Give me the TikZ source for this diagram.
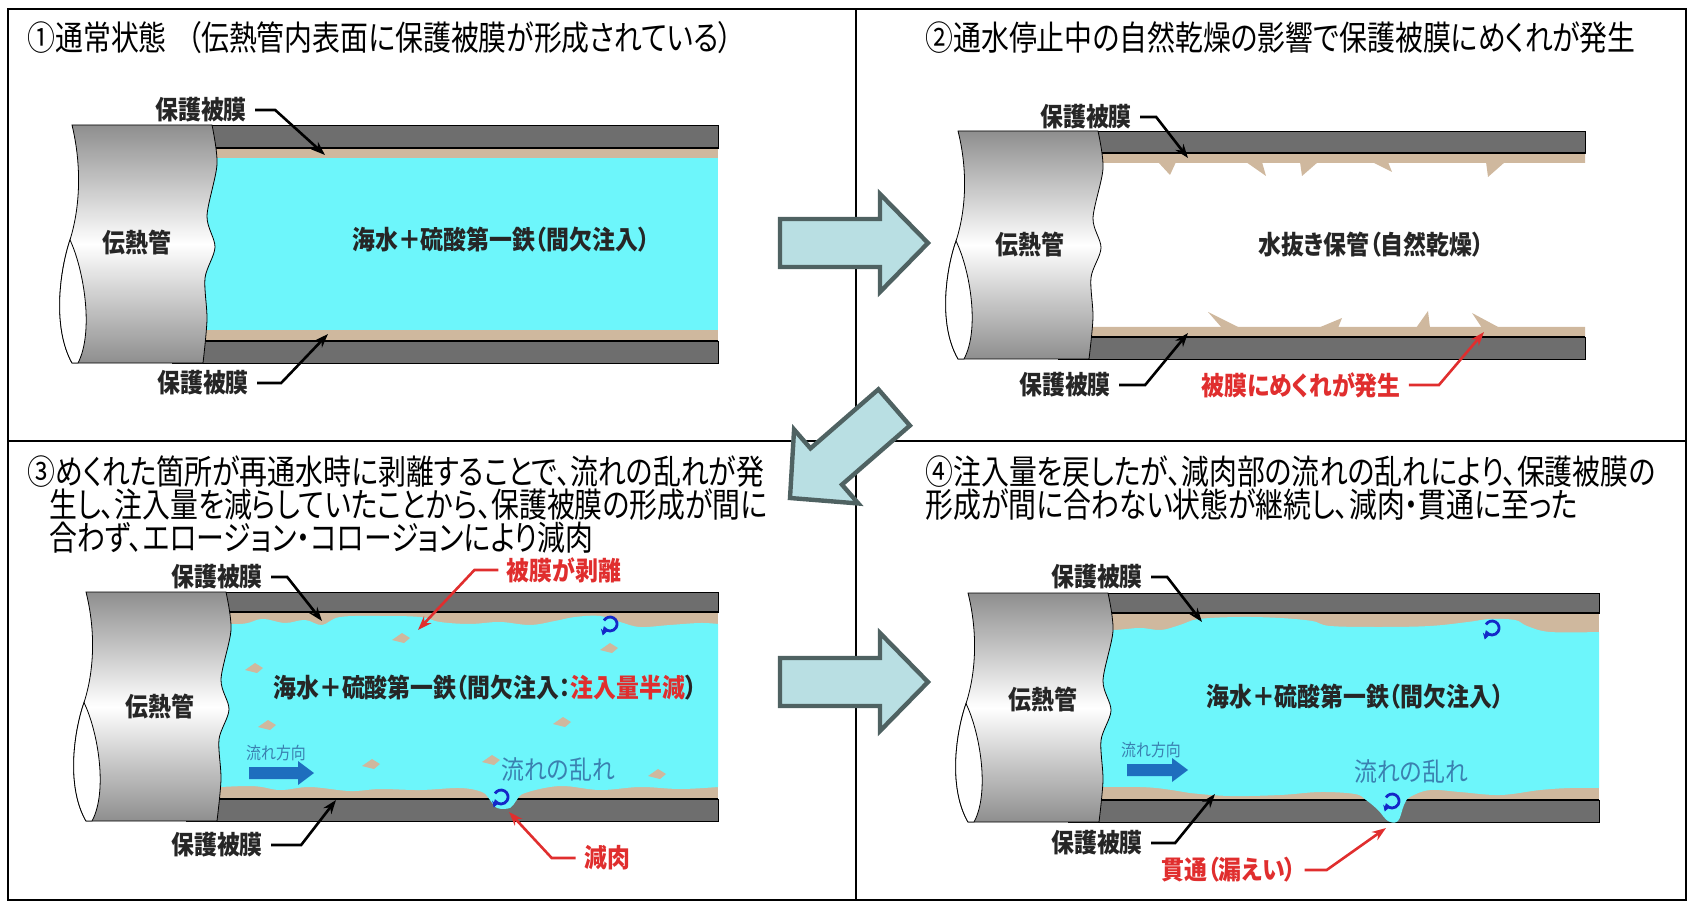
\documentclass[tikz,border=0pt]{standalone}
\usepackage{fontspec}
\usetikzlibrary{arrows.meta}

\newfontfamily\jp[FakeStretch=0.88,RawFeature=+palt]{Noto Sans CJK JP}
\newfontfamily\jphead[FakeStretch=0.82,RawFeature=+palt]{Noto Sans CJK JP}
\newcommand{\titlefont}{\jphead\fontsize{17}{20}\selectfont}
\newcommand{\tagfont}{\jp\bfseries\fontsize{13}{15}\selectfont}
\newcommand{\smalltagfont}{\jp\fontsize{8.5}{10}\selectfont}

\definecolor{wallgrey}{HTML}{6E6E6E}
\definecolor{tubegrey}{HTML}{8E8E8E}
\definecolor{filmtan}{HTML}{CFB89E}
\definecolor{watercyan}{HTML}{6DF6FB}
\definecolor{arrowfill}{HTML}{B9DFE3}
\definecolor{arrowedge}{HTML}{4F6262}
\definecolor{leadred}{HTML}{E02E2E}
\definecolor{flowblue}{HTML}{1E6EBE}
\definecolor{flowtext}{HTML}{3A80B0}
\definecolor{swirlblue}{HTML}{1428C8}

\tikzset{
  frame/.style={draw=black, line width=1pt},
  wall/.style={fill=wallgrey, draw=black, line width=0.4pt},
  innerline/.style={draw=black, line width=1.2pt},
  title/.style={anchor=west, inner sep=0pt, font=\titlefont},
  tag/.style={inner sep=4pt, font=\tagfont, text=black!85},
  redtag/.style={tag, text=leadred},
  flowtag/.style={inner sep=2pt, font=\jp\fontsize{13}{15}\selectfont, text=flowtext},
  lead/.style={draw=black, line width=1.3pt, -{Stealth[length=7pt,width=5pt]}},
  redlead/.style={lead, draw=leadred},
  bigarrow/.style={fill=arrowfill, draw=arrowedge, line width=2.2pt, line join=miter},
  swirl/.style={draw=swirlblue, line width=1.4pt, -{Stealth[length=3pt,width=3.5pt]}},
}

% cut end of a tube; #1 top left corner, #2 vertical scale
\newcommand{\tubeend}[2]{%
  \begin{scope}[shift={#1}, yscale=#2]
    \shadedraw[top color=tubegrey, bottom color=tubegrey, middle color=white, draw=black, line width=0.4pt]
      (0,0) -- (140,0) -- plot[smooth] coordinates {(140,0) (145,38) (135,88) (143,118) (133,148) (135,188) (131,230)}
      -- (0,230) .. controls (-20,195) and (-12,140) .. (-2,111) .. controls (8,80) and (10,40) .. (0,0) -- cycle;
    \filldraw[fill=white, draw=black, line width=0.4pt]
      (-2,111) .. controls (-12,140) and (-20,195) .. (0,230) -- (6,230) .. controls (22,200) and (12,140) .. (-2,111) -- cycle;
  \end{scope}}

\begin{document}
\begin{tikzpicture}[x=0.5pt,y=-0.5pt]
\useasboundingbox (0,0) rectangle (1692,903);

% four panels
\draw[frame] (8,9) rectangle (1686,900);
\draw[frame] (856,9) -- (856,900);
\draw[frame] (8,441) -- (1686,441);

%%% (1) normal state
\node[title] (t1) at (27,38) {①通常状態\hspace{0.6em}（伝熱管内表面に保護被膜が形成されている）};
\fill[filmtan] (172,148) rectangle (718,341);
\fill[watercyan] (172,158) rectangle (718,330);
\draw[wall] (172,125) rectangle (718,148);
\draw[wall] (172,341) rectangle (718,363);
\draw[innerline] (172,148) -- (718,148) (172,341) -- (718,341);
\tubeend{(72,125)}{1.035}
\node[tag] (p1pipe) at (137,243) {伝熱管};
\node[tag] (p1water) at (501,240) {海水＋硫酸第一鉄（間欠注入）};
\node[tag] (p1filmtop) at (201,110) {保護被膜};
\node[tag] (p1filmbot) at (203,383) {保護被膜};
\coordinate (p1a) at (325,155);
\coordinate (p1b) at (328,334);
\draw[lead] (p1filmtop.east) -- ++(20,0) -- (p1a);
\draw[lead] (p1filmbot.east) -- ++(24,0) -- (p1b);

%%% (2) dried out, film curls up
\node[title] (t2) at (925,38) {②通水停止中の自然乾燥の影響で保護被膜にめくれが発生};
\draw[wall] (1058,131) rectangle (1585,153);
\draw[wall] (1058,337) rectangle (1585,359);
\fill[filmtan] (1058,153) rectangle (1585,163) (1058,327) rectangle (1585,337);
\draw[innerline] (1058,153) -- (1585,153) (1058,337) -- (1585,337);
% curled flakes
\fill[filmtan] (1158,162) -- (1176,162) -- (1170,175) -- cycle;
\fill[filmtan] (1246,162) -- (1262,162) -- (1266,176) -- cycle;
\fill[filmtan] (1300,162) -- (1318,162) -- (1302,176) -- cycle;
\fill[filmtan] (1372,162) -- (1388,162) -- (1392,172) -- cycle;
\fill[filmtan] (1486,162) -- (1505,162) -- (1488,177) -- cycle;
\fill[filmtan] (1222,328) -- (1240,328) -- (1208,312) -- cycle;
\fill[filmtan] (1318,328) -- (1338,328) -- (1342,318) -- cycle;
\fill[filmtan] (1416,328) -- (1430,328) -- (1428,311) -- cycle;
\fill[filmtan] (1482,328) -- (1500,328) -- (1472,313) -- cycle;
\tubeend{(958,131)}{0.991}
\node[tag] (p2pipe) at (1030,245) {伝熱管};
\node[tag] (p2dry) at (1371,245) {水抜き保管（自然乾燥）};
\node[tag] (p2filmtop) at (1086,117) {保護被膜};
\node[tag] (p2filmbot) at (1065,385) {保護被膜};
\node[redtag] (p2curl) at (1301,385) {被膜にめくれが発生};
\coordinate (p2a) at (1188,158);
\coordinate (p2b) at (1188,333);
\coordinate (p2c) at (1484,332);
\draw[lead] (p2filmtop.east) -- ++(16,0) -- (p2a);
\draw[lead] (p2filmbot.east) -- ++(26,0) -- (p2b);
\draw[redlead] (p2curl.east) -- ++(30,0) -- (p2c);

%%% (3) film peels off, wall thinning
\node[title] (t3a) at (27,472) {③めくれた箇所が再通水時に剥離することで、流れの乱れが発};
\node[title] (t3b) at (49,505) {生し、注入量を減らしていたことから、保護被膜の形成が間に};
\node[title] (t3c) at (49,538) {合わず、エロージョン・コロージョンにより減肉};
\draw[wall] (186,592) rectangle (718,612);
\draw[wall] (186,799) rectangle (718,821);
\fill[filmtan] (186,612) rectangle (718,799);
\draw[innerline] (186,612) -- (718,612) (186,799) -- (718,799);
\fill[watercyan] plot[smooth, tension=.6] coordinates {(186,622) (240,624) (262,619) (285,623) (305,620) (322,625) (340,617) (380,616) (420,617) (440,622) (470,624) (500,622) (530,625) (555,621) (575,617) (600,616) (620,622) (640,627) (670,625) (700,623) (718,624)}
  -- plot[smooth, tension=.6] coordinates {(718,787) (680,789) (640,787) (600,790) (560,786) (525,793) (516,801) (510,808) (497,808) (490,800) (482,792) (460,788) (420,790) (380,789) (350,791) (310,787) (280,790) (250,786) (186,789)} -- cycle;
% loose pieces of film
\foreach \x/\y in {392/640, 600/650, 245/670, 258/727, 553/724, 362/766, 482/762, 648/776}
  \fill[filmtan] (\x,\y) -- ++(10,-7) -- ++(8,5) -- ++(-6,5) -- cycle;
\fill[flowblue] (249,767) -- (298,767) -- (298,761) -- (314,773) -- (298,785) -- (298,779) -- (249,779) -- cycle;
\draw[swirl] (604,620.5) arc[start angle=-150, end angle=140, radius=7] -- ++(-2,7);
\draw[swirl] (495,793.5) arc[start angle=-150, end angle=140, radius=7] -- ++(-2,6);
\tubeend{(86,592)}{0.996}
\node[tag] (p3pipe) at (160,707) {伝熱管};
\node[tag] (p3water) at (485,688) {海水＋硫酸第一鉄（間欠注入：\textcolor{leadred}{注入量半減}）};
\node[flowtag, font=\smalltagfont] (p3dir) at (276,753) {流れ方向};
\node[flowtag] (p3turb) at (558,770) {流れの乱れ};
\node[tag] (p3filmtop) at (217,577) {保護被膜};
\node[tag] (p3filmbot) at (217,845) {保護被膜};
\node[redtag] (p3peel) at (564,570) {被膜が剥離};
\node[redtag] (p3thin) at (607,858) {減肉};
\coordinate (p3a) at (322,621);
\coordinate (p3b) at (336,800);
\coordinate (p3c) at (418,630);
\coordinate (p3d) at (509,812);
\draw[lead] (p3filmtop.east) -- ++(16,0) -- (p3a);
\draw[lead] (p3filmbot.east) -- ++(30,0) -- (p3b);
\draw[redlead] (p3peel.west) -- ++(-24,0) -- (p3c);
\draw[redlead] (p3thin.west) -- ++(-24,0) -- (p3d);

%%% (4) thinning goes on until leak
\node[title] (t4a) at (925,472) {④注入量を戻したが、減肉部の流れの乱れにより、保護被膜の};
\node[title] (t4b) at (925,505) {形成が間に合わない状態が継続し、減肉・貫通に至った};
\draw[wall] (1068,593) rectangle (1599,613);
\draw[wall] (1068,800) rectangle (1599,822);
\fill[filmtan] (1068,613) rectangle (1599,800);
\draw[innerline] (1068,613) -- (1599,613) (1068,800) -- (1599,800);
\fill[watercyan] plot[smooth, tension=.6] coordinates {(1068,630) (1113,630) (1140,628) (1161,630) (1180,625) (1199,619) (1240,617) (1280,618) (1312,621) (1330,626) (1380,627) (1430,626) (1468,622) (1490,619) (1515,620) (1527,626) (1550,632) (1599,632)}
  -- plot[smooth, tension=.6] coordinates {(1599,788) (1570,788) (1540,790) (1500,795) (1460,792) (1430,790) (1410,797) (1404,805) (1398,821) (1388,821) (1378,810) (1366,800) (1355,794) (1320,792) (1280,795) (1230,796) (1190,793) (1172,790) (1140,787) (1068,787)} -- cycle;
\fill[flowblue] (1127,764) -- (1172,764) -- (1172,758) -- (1188,770) -- (1172,782) -- (1172,776) -- (1127,776) -- cycle;
\draw[swirl] (1486,624.5) arc[start angle=-150, end angle=140, radius=7] -- ++(-2,7);
\draw[swirl] (1386,797.5) arc[start angle=-150, end angle=140, radius=7] -- ++(-2,6);
\tubeend{(968,593)}{0.996}
\node[tag] (p4pipe) at (1043,700) {伝熱管};
\node[tag] (p4water) at (1355,697) {海水＋硫酸第一鉄（間欠注入）};
\node[flowtag, font=\smalltagfont] (p4dir) at (1151,750) {流れ方向};
\node[flowtag] (p4turb) at (1411,772) {流れの乱れ};
\node[tag] (p4filmtop) at (1097,577) {保護被膜};
\node[tag] (p4filmbot) at (1097,843) {保護被膜};
\node[redtag] (p4leak) at (1229,870) {貫通（漏えい）};
\coordinate (p4a) at (1202,622);
\coordinate (p4b) at (1215,794);
\coordinate (p4c) at (1386,828);
\draw[lead] (p4filmtop.east) -- ++(16,0) -- (p4a);
\draw[lead] (p4filmbot.east) -- ++(24,0) -- (p4b);
\draw[redlead] (p4leak.east) -- ++(22,0) -- (p4c);

% block arrows between the stages
\draw[bigarrow, shift={(928,243)}] (0,0) -- (-48,-49) -- (-48,-24) -- (-148,-24) -- (-148,24) -- (-48,24) -- (-48,49) -- cycle;
\draw[bigarrow, shift={(790,498)}, rotate=221] (0,0) -- (-48,-49) -- (-48,-24) -- (-138,-24) -- (-138,24) -- (-48,24) -- (-48,49) -- cycle;
\draw[bigarrow, shift={(928,682)}] (0,0) -- (-48,-49) -- (-48,-24) -- (-148,-24) -- (-148,24) -- (-48,24) -- (-48,49) -- cycle;
\end{tikzpicture}
\end{document}
